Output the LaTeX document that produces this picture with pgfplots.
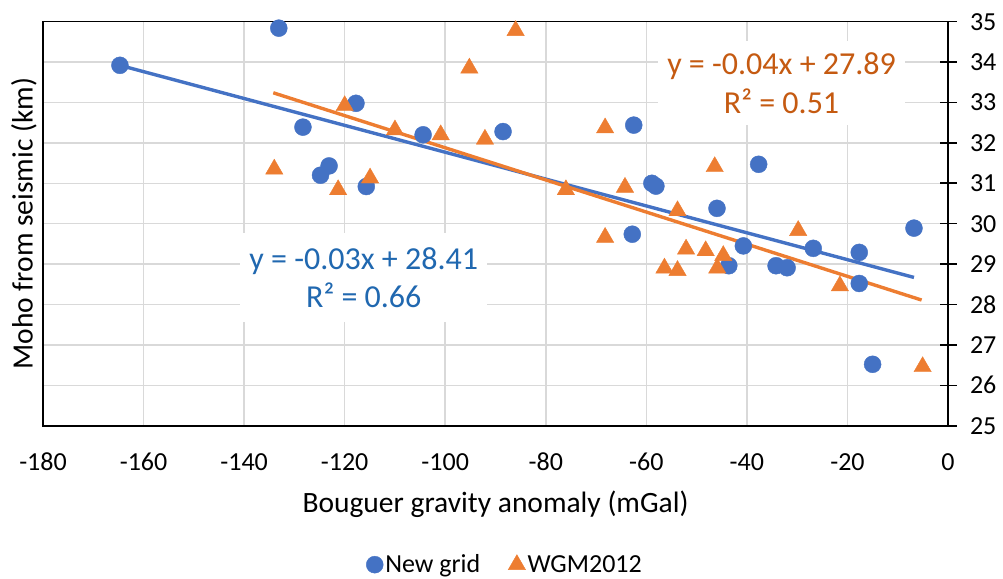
\documentclass[border=0pt]{standalone}
\usepackage{pgfplots}
\pgfplotsset{compat=1.18}
\usepackage{fontspec}
\setmainfont{Carlito}
\definecolor{sblue}{HTML}{4472C4}
\definecolor{sorange}{HTML}{ED7D31}
\definecolor{tblue}{HTML}{2068B0}
\definecolor{torange}{HTML}{C55A11}
\definecolor{gridgray}{HTML}{D9D9D9}
\begin{document}
\begin{tikzpicture}
\begin{axis}[
  scale only axis, width=905pt, height=404pt,
  xmin=-180, xmax=0, ymin=25, ymax=35,
  clip=false,
  axis line style={black, line width=1.6pt},
  xtick={-180,-160,-140,-120,-100,-80,-60,-40,-20,0},
  xticklabels={-180,-160,-140,-120,-100,-80,-60,-40,-20,0},
  ytick={25,26,27,28,29,30,31,32,33,34,35},
  yticklabels={25,26,27,28,29,30,31,32,33,34,35},
  ytick pos=right, yticklabel pos=right,
  xtick pos=bottom,
  grid=major, major grid style={gridgray, line width=1.5pt},
  tick align=center, major tick length=17pt,
  xtick style={draw=none},
  ytick style={black, line width=1.6pt},
  tick label style={font=\fontsize{26}{26}\selectfont},
  xticklabel style={anchor=center, yshift=-28pt},
  yticklabel style={xshift=10pt},
  every axis x label/.style={at={(rel axis cs:0.5,-0.194)}, anchor=center, font=\fontsize{29.5}{30}\selectfont},
  every axis y label/.style={at={(rel axis cs:-0.021,0.5)}, anchor=center, rotate=90, font=\fontsize{29.5}{30}\selectfont},
  xlabel={Bouguer gravity anomaly (mGal)},
  ylabel={Moho from seismic (km)},
  legend style={at={(rel axis cs:0.5105,-0.344)}, anchor=center, draw=none, fill=none,
    font=\fontsize{26}{26}\selectfont, legend columns=2,
    /tikz/every even column/.append style={column sep=26pt}},
]
\addplot[only marks, mark=*, mark size=8.5pt, color=sblue, mark options={draw=sblue, fill=sblue}] coordinates {
(-164.7,33.92) (-133.1,34.84) (-128.3,32.39) (-124.8,31.20) (-123.1,31.43)
(-117.75,32.98) (-115.7,30.92) (-104.4,32.20) (-88.5,32.28) (-62.8,29.74)
(-62.5,32.44) (-58.9,31.00) (-58.1,30.93) (-45.95,30.38) (-43.6,28.96)
(-40.7,29.45) (-37.66,31.47) (-34.2,28.96) (-32.0,28.91) (-26.8,29.39)
(-17.65,29.29) (-17.65,28.52) (-15.0,26.52) (-6.77,29.89)
};
\addlegendentry{New grid}
\addplot[only marks, mark=triangle*, mark size=10pt, color=sorange, mark options={draw=sorange, fill=sorange}] coordinates {
(-134.0,31.35) (-121.3,30.84) (-120.0,32.92) (-114.95,31.13) (-110.0,32.32)
(-100.9,32.20) (-95.2,33.85) (-92.1,32.09) (-86.0,34.78) (-76.0,30.84)
(-68.2,32.37) (-68.2,29.66) (-64.25,30.90) (-56.4,28.90) (-53.8,30.32)
(-53.8,28.84) (-52.1,29.37) (-48.2,29.33) (-46.4,31.41) (-45.9,28.90)
(-44.7,29.21) (-29.8,29.83) (-21.5,28.46) (-5.05,26.46)
};
\addlegendentry{WGM2012}
\addplot[sblue, line width=3.4pt, no marks, forget plot] coordinates {(-164.7,33.92) (-6.77,28.67)};
\addplot[sorange, line width=3.4pt, no marks, forget plot] coordinates {(-134.2,33.24) (-5.25,28.11)};
\node[fill=white, minimum width=247pt, minimum height=89pt, align=center, text=tblue,
  font=\fontsize{32}{38}\selectfont] at (axis cs:-116.2,28.66) {y = -0.03x + 28.41\\R² = 0.66};
\node[fill=white, minimum width=247pt, minimum height=84pt, align=center, text=torange,
  font=\fontsize{32}{39}\selectfont] at (axis cs:-33.1,33.48) {y = -0.04x + 27.89\\R² = 0.51};
\coordinate (bl) at (rel axis cs:0,0);
\coordinate (tr) at (rel axis cs:1,1);
\end{axis}
\pgfresetboundingbox
\path ([shift={(-43pt,-152.3pt)}]bl) rectangle ([shift={(55pt,21.7pt)}]tr);
\end{tikzpicture}
\end{document}
